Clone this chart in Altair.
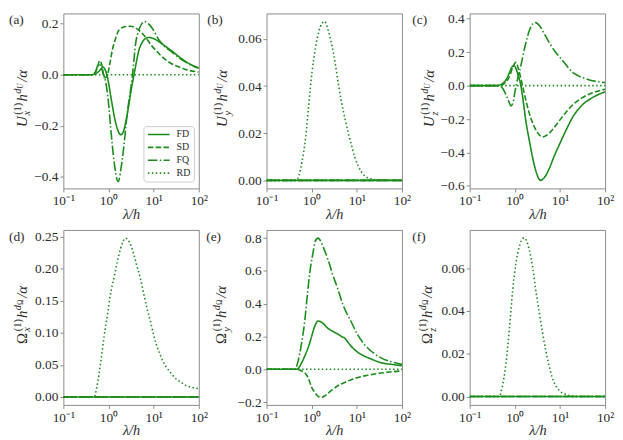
import altair as alt
import pandas as pd

GREEN = "#1a8c1a"
FRAME = "#8c8c8c"
TEXT = "#2b2b2b"
SERIF = "Liberation Serif"

SERIES = ["FD", "SD", "FQ", "RD"]
DASHES = [[1, 0], [5.5, 2.4], [9.6, 2.4, 1.5, 2.4], [1.5, 2.5]]
XTICKS = [0.1, 1, 10, 100]
XTICK_LABELS = ["10⁻¹", "10⁰", "10¹", "10²"]
ZERO_X = [0.1, 100]
ZERO_Y = [0.0, 0.0]

# ---------------- panel (a): U_x ----------------
A_FD_X = [0.1, 0.42, 0.5, 0.6, 0.68, 0.76, 0.84, 0.92, 1.0, 1.12, 1.3, 1.45, 1.65, 1.87, 2.1, 2.4, 2.75, 3.1, 3.67, 4.2, 4.7, 5.5, 6.5, 7.85, 9.5, 13, 18, 25.7, 35, 50, 70, 100]
A_FD_Y = [0, 0, 0.003, 0.012, 0.022, 0.030, 0.020, 0.0, -0.03, -0.083, -0.15, -0.19, -0.222, -0.235, -0.226, -0.186, -0.13, -0.07, 0.0, 0.055, 0.095, 0.125, 0.141, 0.146, 0.143, 0.130, 0.112, 0.092, 0.073, 0.053, 0.038, 0.027]
A_SD_X = [0.1, 0.42, 0.5, 0.56, 0.64, 0.72, 0.8, 0.88, 0.95, 1.05, 1.22, 1.45, 1.71, 2.3, 3.1, 4.0, 5.6, 9.3, 13, 18.3, 25, 35.9, 55, 100]
A_SD_Y = [0, 0, 0.008, 0.025, 0.055, 0.035, -0.012, -0.01, 0.0, 0.035, 0.098, 0.145, 0.175, 0.188, 0.19, 0.183, 0.162, 0.111, 0.083, 0.059, 0.043, 0.031, 0.019, 0.0104]
A_FQ_X = [0.1, 0.45, 0.52, 0.57, 0.62, 0.7, 0.78, 0.87, 1.0, 1.12, 1.33, 1.63, 2.03, 2.62, 3.38, 4.0, 4.7, 5.5, 6.4, 7.8, 9.3, 13, 18.3, 25.7, 35, 50, 70, 100]
A_FQ_Y = [0, 0, 0.012, 0.035, 0.042, 0.025, 0.0, -0.03, -0.11, -0.21, -0.34, -0.418, -0.328, -0.147, -0.005, 0.124, 0.175, 0.2, 0.208, 0.198, 0.182, 0.137, 0.108, 0.088, 0.069, 0.051, 0.036, 0.025]

# ---------------- panel (b): U_y ----------------
B_RD_X = [0.1, 0.45, 0.52, 0.61, 0.73, 0.86, 1.02, 1.21, 1.43, 1.69, 1.94, 2.33, 2.75, 3.3, 3.9, 4.6, 5.5, 6.5, 7.6, 9, 10.6, 12.5, 14.8, 20, 30, 100]
B_RD_Y = [0, 0, 0.002, 0.0078, 0.0177, 0.032, 0.046, 0.056, 0.063, 0.0665, 0.0674, 0.0636, 0.058, 0.05, 0.041, 0.033, 0.026, 0.02, 0.015, 0.01, 0.0063, 0.0038, 0.002, 0.0007, 0.0002, 0]

# ---------------- panel (c): U_z ----------------
C_FD_X = [0.1, 0.42, 0.5, 0.64, 0.75, 0.85, 0.94, 1.05, 1.15, 1.36, 1.53, 1.75, 2.1, 2.45, 3.0, 3.7, 4.5, 5.7, 7.5, 10, 14, 20, 30, 50, 100]
C_FD_Y = [0, 0, 0.008, 0.035, 0.074, 0.108, 0.119, 0.105, 0.074, 0.0, -0.09, -0.21, -0.33, -0.424, -0.52, -0.567, -0.55, -0.5, -0.42, -0.345, -0.26, -0.18, -0.12, -0.075, -0.037]
C_SD_X = [0.1, 0.45, 0.6, 0.75, 0.9, 1.06, 1.2, 1.48, 1.8, 2.3, 3.0, 4.1, 5.5, 7.5, 10, 14, 20, 30, 50, 100]
C_SD_Y = [0, 0, 0.015, 0.05, 0.11, 0.139, 0.1, 0.0, -0.1, -0.2, -0.27, -0.307, -0.29, -0.25, -0.205, -0.155, -0.11, -0.075, -0.045, -0.022]
C_FQ_X = [0.1, 0.45, 0.55, 0.65, 0.75, 0.82, 0.92, 1.0, 1.07, 1.2, 1.36, 1.7, 2.1, 2.5, 2.9, 3.5, 4.5, 6, 8, 10.5, 14, 18.5, 25, 40, 100]
C_FQ_Y = [0, 0, -0.02, -0.06, -0.1, -0.121, -0.1, -0.04, 0.0, 0.06, 0.12, 0.24, 0.33, 0.37, 0.377, 0.36, 0.31, 0.25, 0.2, 0.162, 0.12, 0.082, 0.06, 0.038, 0.018]

# ---------------- panel (d): Omega_x ----------------
D_RD_X = [0.1, 0.48, 0.55, 0.68, 0.8, 0.95, 1.1, 1.32, 1.55, 1.85, 2.38, 2.9, 3.6, 4.2, 5.05, 6, 7.1, 8.5, 9.9, 11.5, 13.8, 16, 19.4, 25, 31.7, 40, 52, 70, 100]
D_RD_Y = [0, 0, 0.015, 0.057, 0.095, 0.129, 0.16, 0.186, 0.21, 0.232, 0.248, 0.242, 0.224, 0.206, 0.186, 0.162, 0.139, 0.118, 0.098, 0.082, 0.067, 0.056, 0.046, 0.036, 0.028, 0.023, 0.018, 0.015, 0.013]

# ---------------- panel (e): Omega_y ----------------
E_FD_X = [0.1, 0.45, 0.5, 0.6, 0.7, 0.83, 0.95, 1.07, 1.2, 1.38, 1.7, 2.3, 3.0, 3.8, 4.6, 5.4, 7.0, 8.9, 11, 14.9, 20, 34.5, 60, 100]
E_FD_Y = [0, 0, 0.005, 0.04, 0.08, 0.13, 0.18, 0.23, 0.27, 0.295, 0.285, 0.25, 0.23, 0.215, 0.2, 0.19, 0.15, 0.12, 0.1, 0.08, 0.065, 0.04, 0.03, 0.022]
E_SD_X = [0.1, 0.45, 0.6, 0.75, 0.83, 1.0, 1.17, 1.4, 1.64, 2.0, 2.7, 3.8, 5.4, 8, 14.9, 30, 60, 100]
E_SD_Y = [0, 0, -0.01, -0.03, -0.05, -0.11, -0.14, -0.165, -0.171, -0.16, -0.13, -0.1, -0.08, -0.06, -0.04, -0.025, -0.015, -0.01]
E_FQ_X = [0.1, 0.4, 0.45, 0.5, 0.59, 0.7, 0.8, 0.91, 1.07, 1.2, 1.38, 1.6, 1.9, 2.3, 2.9, 3.8, 5, 7.5, 10, 14.9, 20, 34.5, 60, 100]
E_FQ_Y = [0, 0, 0.01, 0.05, 0.15, 0.29, 0.45, 0.59, 0.71, 0.78, 0.80, 0.78, 0.73, 0.67, 0.58, 0.49, 0.39, 0.29, 0.22, 0.15, 0.115, 0.07, 0.045, 0.03]

# ---------------- panel (f): Omega_z ----------------
F_RD_X = [0.1, 0.45, 0.52, 0.64, 0.76, 0.9, 1.05, 1.25, 1.6, 2.07, 2.5, 2.9, 3.5, 4.1, 4.8, 5.7, 6.7, 7.9, 10, 13.2, 18, 30, 100]
F_RD_Y = [0, 0, 0.004, 0.016, 0.032, 0.05, 0.062, 0.070, 0.0742, 0.069, 0.06, 0.05, 0.039, 0.03, 0.022, 0.0147, 0.009, 0.0054, 0.0025, 0.0011, 0.0003, 0, 0]


def frame(series):
    rows = []
    for name, xs, ys in series:
        for xv, yv in zip(xs, ys):
            rows.append({"x": xv, "y": yv, "s": name})
    return pd.DataFrame(rows)


def label_expr():
    parts = []
    for v, t in zip(XTICKS, XTICK_LABELS):
        parts.append(f"abs(datum.value - {v}) < {v * 0.01} ? '{t}' : ")
    return "".join(parts) + "''"


ONE = pd.DataFrame({"k": [0]})

W_EM = {"U": 0.722, "Ω": 0.768, "x": 0.444, "y": 0.444, "z": 0.389,
        "(1)": 1.166, "h": 0.5, "d": 0.5, "/α": 0.80}


def title_layers(main, sub, x0, center, M=15.0):
    S, SS = 0.7 * M, 0.5 * M
    main_italic = main != "Ω"
    segs = []  # text, size, shift, italic, pos
    pos = 0.0
    segs.append((main, M, 0.0, main_italic, pos))
    pos += W_EM[main] * M + 0.05 * M
    segs.append((sub, S, 0.25 * M, True, pos))
    segs.append(("(1)", S, -0.42 * M, False, pos + 0.04 * M))
    pos += max(W_EM[sub], W_EM["(1)"]) * S + 0.12 * M
    segs.append(("h", M, 0.0, True, pos))
    pos += W_EM["h"] * M + 0.02 * M
    segs.append(("d", S, -0.42 * M, True, pos))
    pos += W_EM["d"] * S
    segs.append((main, SS, -0.28 * M, main_italic, pos))
    pos += W_EM[main] * SS + 0.1 * M
    segs.append(("/α", M, 0.0, True, pos))
    total = pos + W_EM["/α"] * M
    y0 = center + total / 2
    layers = []
    for t, size, shift, it, p in segs:
        layers.append(
            alt.Chart(ONE).mark_text(
                angle=270, align="left", baseline="alphabetic", font=SERIF,
                fontSize=size, fontStyle="italic" if it else "normal", color=TEXT,
            ).encode(x=alt.value(x0 + shift), y=alt.value(y0 - p), text=alt.value(t))
        )
    return layers


LEGEND = alt.Legend(
    title=None, orient="none", legendX=81, legendY=114,
    symbolType="M-1,0H4.5", symbolSize=64, symbolStrokeWidth=1.6,
    symbolStrokeColor=GREEN, symbolFillColor="transparent",
    labelOffset=20, labelFont=SERIF, labelFontSize=10, labelColor=TEXT,
    padding=3.5, rowPadding=3, strokeColor="#cccccc", fillColor="white",
    cornerRadius=3,
)

W, H = 137, 177


def panel(df, ydom, yticks, yfmt, letter, lab_dx, lab_y, main, sub, tx0, tcenter):
    lines = alt.Chart(df).mark_line(
        color=GREEN, strokeWidth=1.6, interpolate="monotone", clip=True
    ).encode(
        x=alt.X("x:Q", scale=alt.Scale(type="log", domain=[0.1, 100], nice=False),
                axis=alt.Axis(values=XTICKS, labelExpr=label_expr(), title="λ/h",
                              titleFontStyle="italic", titleFontSize=14.5, titlePadding=0,
                              labelPadding=2, labelFlush=False)),
        y=alt.Y("y:Q", scale=alt.Scale(domain=ydom, nice=False, zero=False),
                axis=alt.Axis(values=yticks, format=yfmt, title=None, labelPadding=2)),
        strokeDash=alt.StrokeDash("s:N", scale=alt.Scale(domain=SERIES, range=DASHES), legend=LEGEND),
    )
    lab = alt.Chart(ONE).mark_text(
        align="left", baseline="middle", font=SERIF, fontSize=13.5, color=TEXT
    ).encode(x=alt.value(lab_dx), y=alt.value(lab_y), text=alt.value(f"({letter})"))
    return alt.layer(lines, lab, *title_layers(main, sub, tx0, tcenter)).properties(width=W, height=H)


pa = panel(frame([("FD", A_FD_X, A_FD_Y), ("SD", A_SD_X, A_SD_Y), ("FQ", A_FQ_X, A_FQ_Y), ("RD", ZERO_X, ZERO_Y)]),
           [-0.445, 0.24], [-0.4, -0.2, 0.0, 0.2], ".1f", "a", -55, 6.5, "U", "x", -37, 86)
pb = panel(frame([("FD", ZERO_X, ZERO_Y), ("SD", ZERO_X, ZERO_Y), ("FQ", ZERO_X, ZERO_Y), ("RD", B_RD_X, B_RD_Y)]),
           [-0.0034, 0.0708], [0.0, 0.02, 0.04, 0.06], ".2f", "b", -60, 6.5, "U", "y", -40, 86)
pc = panel(frame([("FD", C_FD_X, C_FD_Y), ("SD", C_SD_X, C_SD_Y), ("FQ", C_FQ_X, C_FQ_Y), ("RD", ZERO_X, ZERO_Y)]),
           [-0.615, 0.432], [-0.6, -0.4, -0.2, 0.0, 0.2, 0.4], ".1f", "c", -58, 6.5, "U", "z", -36, 86)
pd_ = panel(frame([("FD", ZERO_X, ZERO_Y), ("SD", ZERO_X, ZERO_Y), ("FQ", ZERO_X, ZERO_Y), ("RD", D_RD_X, D_RD_Y)]),
            [-0.0124, 0.261], [0.0, 0.05, 0.10, 0.15, 0.20, 0.25], ".2f", "d", -55, 7, "Ω", "x", -37, 86)
pe = panel(frame([("FD", E_FD_X, E_FD_Y), ("SD", E_SD_X, E_SD_Y), ("FQ", E_FQ_X, E_FQ_Y), ("RD", ZERO_X, ZERO_Y)]),
           [-0.217, 0.85], [-0.2, 0.0, 0.2, 0.4, 0.6, 0.8], ".1f", "e", -61, 7, "Ω", "y", -41, 86)
pf = panel(frame([("FD", ZERO_X, ZERO_Y), ("SD", ZERO_X, ZERO_Y), ("FQ", ZERO_X, ZERO_Y), ("RD", F_RD_X, F_RD_Y)]),
           [-0.0039, 0.0779], [0.0, 0.02, 0.04, 0.06], ".2f", "f", -58, 7, "Ω", "z", -38, 86)

chart = alt.concat(
    pa, pb, pc, pd_, pe, pf, columns=3,
    spacing={"row": 42, "column": 68.5}, bounds="flush",
).properties(
    padding={"left": 0, "top": 0, "right": 0, "bottom": 0}
).configure(
    font=SERIF
).configure_view(
    stroke=FRAME, strokeWidth=1
).configure_axis(
    domain=False, grid=False, tickColor=FRAME, tickSize=3.5, tickWidth=1,
    labelFont=SERIF, labelFontSize=13.5, labelColor=TEXT,
    titleFont=SERIF, titleColor=TEXT, titleFontWeight="normal",
)

chart.save("out.html", embed_options={"renderer": "svg", "actions": False})
